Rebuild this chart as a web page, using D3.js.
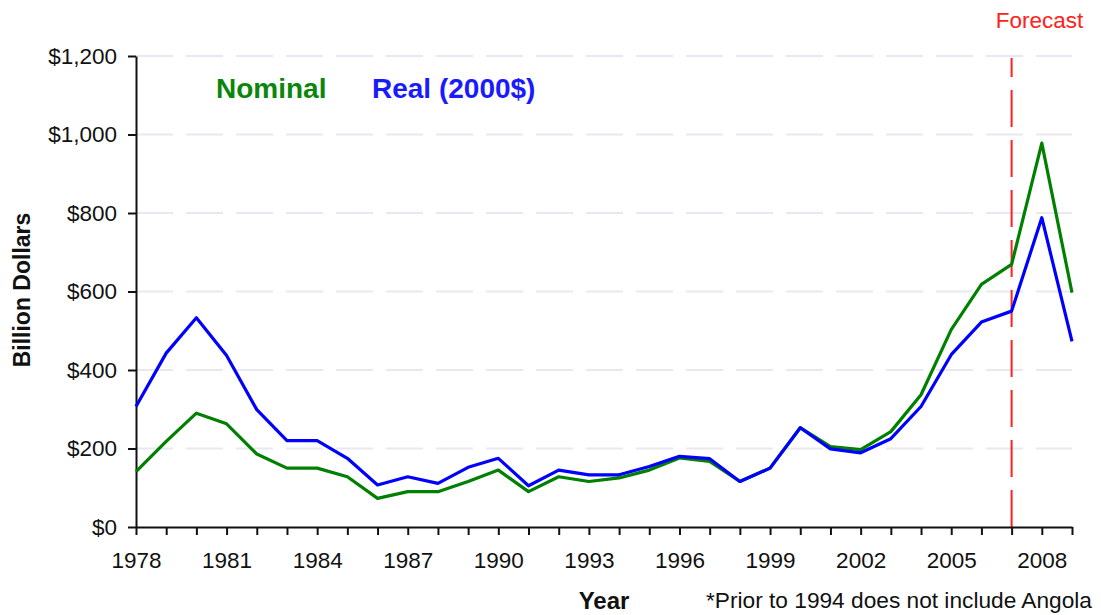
<!DOCTYPE html>
<html>
<head>
<meta charset="utf-8">
<script src="https://cdn.jsdelivr.net/npm/d3@7"></script>
<style>
  html, body { margin: 0; padding: 0; background: #fff; }
  svg { display: block; font-family: "Liberation Sans", Arial, sans-serif; }
</style>
</head>
<body>
<svg id="chart" width="1101" height="615"></svg>
<script>
const years = [1978,1979,1980,1981,1982,1983,1984,1985,1986,1987,1988,1989,1990,1991,1992,1993,1994,1995,1996,1997,1998,1999,2000,2001,2002,2003,2004,2005,2006,2007,2008,2009];
const nominal = [141,218,290,263,186,150,150,128,73,90,90,116,145,90,128,116,125,145,176,167,116,150,253,205,197,243,337,503,618,669,978,597];
const real    = [307,443,533,437,299,220,220,175,107,128,111,152,175,105,145,133,133,154,180,174,116,150,253,199,189,225,307,439,522,550,788,473];
const yTicks = [0,200,400,600,800,1000,1200];
const labelYears = [1978,1981,1984,1987,1990,1993,1996,1999,2002,2005,2008];
const forecastYear = 2007;

const svg = d3.select("#chart");
const x = d3.scaleLinear().domain([1978, 2009]).range([136, 1072]);
const y = d3.scaleLinear().domain([0, 1200]).range([527, 56]);

// gridlines
svg.append("g").selectAll("line")
  .data(yTicks.filter(d => d > 0))
  .join("line")
  .attr("x1", x(1978)).attr("x2", x(2009))
  .attr("y1", d => y(d)).attr("y2", d => y(d))
  .attr("stroke", "#e8e8f2").attr("stroke-width", 2)
  .attr("stroke-dasharray", "37,13");

// forecast line
svg.append("line")
  .attr("x1", x(forecastYear)).attr("x2", x(forecastYear))
  .attr("y1", y(0)).attr("y2", y(1200) + 2)
  .attr("stroke", "#ff2020").attr("stroke-width", 2)
  .attr("stroke-dasharray", "37,13");

svg.append("text")
  .attr("x", x(forecastYear) + 28).attr("y", 28)
  .attr("text-anchor", "middle")
  .attr("fill", "#ff2020")
  .attr("font-size", "22.5px")
  .text("Forecast");

// axes
const yAxis = d3.axisLeft(y).tickValues(yTicks).tickSize(8).tickSizeOuter(0).tickPadding(11)
  .tickFormat(d3.format("$,.0f"));
const gy = svg.append("g").attr("transform", `translate(${x(1978)},0)`).call(yAxis);
gy.select(".domain").attr("stroke", "#111").attr("stroke-width", 2);
gy.selectAll(".tick line").attr("stroke", "#111").attr("stroke-width", 2);
gy.selectAll(".tick text").attr("font-size", "22.5px").attr("fill", "#111")
  .attr("font-family", "'Liberation Sans', Arial, sans-serif");

const xAxis = d3.axisBottom(x).tickValues(years).tickSize(8).tickSizeOuter(0).tickPadding(17)
  .tickFormat(d => labelYears.includes(d) ? String(d) : "");
const gx = svg.append("g").attr("transform", `translate(0,${y(0)})`).call(xAxis);
gx.select(".domain").attr("stroke", "#111").attr("stroke-width", 2);
gx.selectAll(".tick line").attr("stroke", "#111").attr("stroke-width", 2);
gx.selectAll(".tick text").attr("font-size", "22.5px").attr("fill", "#111")
  .attr("font-family", "'Liberation Sans', Arial, sans-serif");

// lines
const line = d3.line().x((d, i) => x(years[i])).y(d => y(d));
svg.append("path").datum(nominal).attr("d", line)
  .attr("fill", "none").attr("stroke", "#008000").attr("stroke-width", 3.2)
  .attr("stroke-linejoin", "round");
svg.append("path").datum(real).attr("d", line)
  .attr("fill", "none").attr("stroke", "#0000ff").attr("stroke-width", 3.2)
  .attr("stroke-linejoin", "round");

// legend
svg.append("text").attr("x", 216).attr("y", 98)
  .attr("font-size", "28px").attr("font-weight", "bold").attr("fill", "#0a870a")
  .text("Nominal");
svg.append("text").attr("x", 372).attr("y", 98)
  .attr("font-size", "28px").attr("font-weight", "bold").attr("fill", "#1a1aff")
  .text("Real (2000$)");

// axis titles
svg.append("text")
  .attr("transform", `translate(30,290) rotate(-90)`)
  .attr("text-anchor", "middle")
  .attr("font-size", "23px").attr("font-weight", "bold").attr("fill", "#111")
  .text("Billion Dollars");
svg.append("text")
  .attr("x", 604).attr("y", 609)
  .attr("text-anchor", "middle")
  .attr("font-size", "24px").attr("font-weight", "bold").attr("fill", "#111")
  .text("Year");
svg.append("text")
  .attr("x", 706).attr("y", 608)
  .attr("font-size", "22.7px").attr("fill", "#111")
  .text("*Prior to 1994 does not include Angola");
</script>
</body>
</html>
